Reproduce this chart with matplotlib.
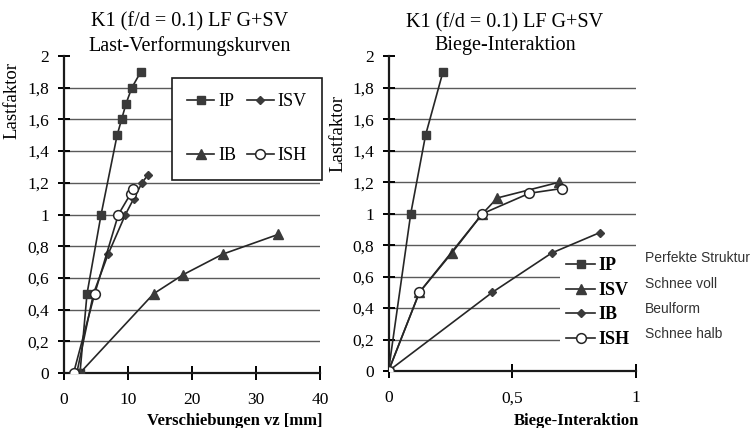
import matplotlib
matplotlib.use('Agg')
import matplotlib.pyplot as plt
from matplotlib.ticker import FuncFormatter
from matplotlib.lines import Line2D

# Last-Verformungskurven (left)
ip_vz = [2.5, 3.6, 5.8, 8.3, 9.0, 9.7, 10.6, 12.0]
ip_lf = [0, 0.5, 1.0, 1.5, 1.6, 1.7, 1.8, 1.9]
isv_vz = [2.0, 4.6, 6.9, 9.6, 10.9, 12.2, 13.1]
isv_lf = [0, 0.5, 0.75, 1.0, 1.1, 1.2, 1.25]
ib_vz = [2.5, 14.0, 18.6, 24.8, 33.5]
ib_lf = [0, 0.5, 0.62, 0.75, 0.875]
ish_vz = [1.5, 4.8, 8.5, 10.4, 10.8]
ish_lf = [0, 0.5, 1.0, 1.13, 1.16]

# Biege-Interaktion (right)
ip_bi = [0, 0.09, 0.15, 0.22]
ip_lf2 = [0, 1.0, 1.5, 1.9]
isv_bi = [0, 0.125, 0.256, 0.38, 0.44, 0.69]
isv_lf2 = [0, 0.5, 0.75, 1.0, 1.1, 1.2]
ib_bi = [0, 0.42, 0.66, 0.855]
ib_lf2 = [0, 0.5, 0.75, 0.88]
ish_bi = [0, 0.125, 0.38, 0.57, 0.70]
ish_lf2 = [0, 0.5, 1.0, 1.13, 1.16]

descriptions = ['Perfekte Struktur', 'Schnee voll', 'Beulform', 'Schnee halb']

serif = ['Liberation Serif', 'DejaVu Serif']
plt.rcParams['font.family'] = serif
lc = '#262626'
gc = '#5a5a5a'

styles = {
    'IP': dict(marker='s', ms=6, mfc='#3a3a3a', mec='#3a3a3a'),
    'ISV': dict(marker='D', ms=4.5, mfc='#3a3a3a', mec='#3a3a3a'),
    'IB': dict(marker='^', ms=6.5, mfc='#3a3a3a', mec='#3a3a3a'),
    'ISH': dict(marker='o', ms=7, mfc='white', mec=lc, mew=1.1),
}


def comma(v, pos):
    s = ('%g' % v).replace('.', ',')
    return s


def style_axes(ax, xmax, xticks):
    ax.set_xlim(0, xmax)
    ax.set_ylim(0, 2)
    ax.set_xticks(xticks)
    ax.set_yticks([0, 0.2, 0.4, 0.6, 0.8, 1, 1.2, 1.4, 1.6, 1.8, 2])
    ax.xaxis.set_major_formatter(FuncFormatter(comma))
    ax.yaxis.set_major_formatter(FuncFormatter(comma))
    for s in ['top', 'right']:
        ax.spines[s].set_visible(False)
    for s in ['left', 'bottom']:
        ax.spines[s].set_linewidth(1.6)
        ax.spines[s].set_color('#1a1a1a')
    ax.tick_params(axis='x', direction='inout', length=10, width=1.4, pad=9, labelsize=12.5)
    ax.tick_params(axis='y', direction='inout', length=9, width=1.4, pad=6, labelsize=12.5)
    for y in [0.2, 0.4, 0.6, 0.8, 1.0, 1.2, 1.4, 1.6, 1.8]:
        ax.axhline(y, color=gc, lw=1.0, zorder=1)
    ax.set_ylabel('Lastfaktor', fontsize=13.5)


fig = plt.figure(figsize=(7.5, 4.28), dpi=100)
ax1 = fig.add_axes([0.0853, 0.1285, 0.3414, 0.7406])
ax2 = fig.add_axes([0.518, 0.1332, 0.3296, 0.735])

style_axes(ax1, 40, [0, 10, 20, 30, 40])
style_axes(ax2, 1, [0, 0.5, 1])

# left chart
ax1.plot(ip_vz, ip_lf, color=lc, lw=1.2, zorder=3, **styles['IP'])
ax1.plot(ib_vz, ib_lf, color=lc, lw=1.2, zorder=3, **styles['IB'])
ax1.plot(isv_vz, isv_lf, color=lc, lw=1.2, zorder=3, **styles['ISV'])
ax1.plot(ish_vz, ish_lf, color=lc, lw=1.2, zorder=4, **styles['ISH'])

h = [Line2D([], [], color=lc, lw=1.2, **styles[k]) for k in ['IP', 'IB', 'ISV', 'ISH']]
leg1 = fig.legend(h, ['IP', 'IB', 'ISV', 'ISH'], ncol=2, loc='upper left',
                  bbox_to_anchor=(172 / 750, 1 - 78 / 428), borderaxespad=0,
                  fontsize=13, frameon=True, fancybox=False, edgecolor='#1a1a1a',
                  framealpha=1, borderpad=0.85, labelspacing=2.05, handlelength=1.5,
                  handletextpad=0.2, columnspacing=0.6)
leg1.get_frame().set_linewidth(1.2)

ax1.set_xlabel('Verschiebungen vz [mm]', fontsize=12, fontweight='bold')
ax1.xaxis.set_label_coords(0.668, -0.125)
ax1.yaxis.set_label_coords(-0.17, 0.86)

# right chart
ax2.plot(ip_bi, ip_lf2, color=lc, lw=1.2, zorder=3, **styles['IP'])
ax2.plot(isv_bi, isv_lf2, color=lc, lw=1.2, zorder=3, **styles['IB'])
ax2.plot(ib_bi, ib_lf2, color=lc, lw=1.2, zorder=3, **styles['ISV'])
ax2.plot(ish_bi, ish_lf2, color=lc, lw=1.2, zorder=4, **styles['ISH'])

h2 = [Line2D([], [], color=lc, lw=1.2, **styles[k]) for k in ['IP', 'IB', 'ISV', 'ISH']]
leg2 = fig.legend(h2, ['IP', 'ISV', 'IB', 'ISH'], loc='upper left',
                  bbox_to_anchor=(560 / 750, 1 - 251 / 428), borderaxespad=0,
                  prop={'family': serif, 'size': 13, 'weight': 'bold'},
                  frameon=True, fancybox=False, edgecolor='none', facecolor='white',
                  framealpha=1, borderpad=0.35, labelspacing=0.42, handlelength=1.6,
                  handletextpad=0.2)

for i, d in enumerate(descriptions):
    fig.text(645 / 750, 1 - (258 + 25.5 * i) / 428, d, fontsize=10,
             family=['Liberation Sans', 'DejaVu Sans'], color='#333333', va='center')

ax2.set_xlabel('Biege-Interaktion', fontsize=12, fontweight='bold')
ax2.xaxis.set_label_coords(0.76, -0.135)
ax2.yaxis.set_label_coords(-0.17, 0.755)

fig.text(190 / 750, 1 - 34 / 428, 'K1 (f/d = 0.1) LF G+SV\nLast-Verformungskurven',
         ha='center', va='center', fontsize=14.5, linespacing=1.25)
fig.text(505 / 750, 1 - 34 / 428, 'K1 (f/d = 0.1) LF G+SV\nBiege-Interaktion',
         ha='center', va='center', fontsize=14.5, linespacing=1.25)

fig.savefig('out.png', dpi=100)
